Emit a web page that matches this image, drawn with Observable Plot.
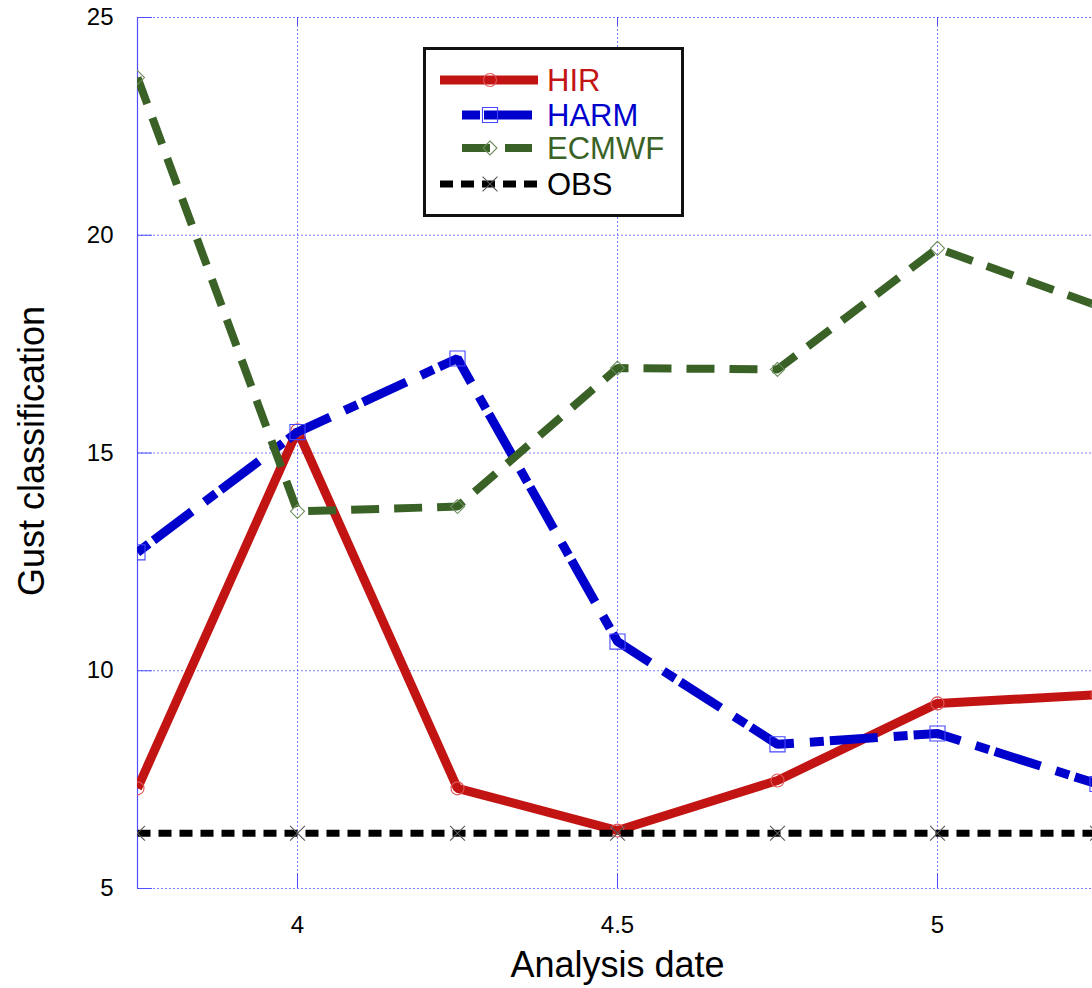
<!DOCTYPE html>
<html><head><meta charset="utf-8">
<script src="https://cdn.jsdelivr.net/npm/d3@7"></script>
<script src="https://cdn.jsdelivr.net/npm/@observablehq/plot@0.6"></script>
<style>
body{margin:0;background:#fff;overflow:hidden;font-family:"Liberation Sans",Arial,sans-serif;}
#wrap{position:relative;width:1092px;height:988px;}
#legend{position:absolute;left:423px;top:47px;width:255px;height:164px;border:3px solid #111;background:#fff;}
#legend svg{display:block;}
</style></head><body><div id="wrap"><div id="chart"></div><div id="legend"></div></div>
<script>
// ---- data ----
const dates = [3.75, 4, 4.25, 4.5, 4.75, 5, 5.25];
const hir   = [7.30, 15.52, 7.30, 6.33, 7.48, 9.25, 9.45];
const harm  = [12.72, 15.48, 17.17, 10.67, 8.31, 8.56, 7.40];
const ecmwf = [23.62, 13.66, 13.77, 16.95, 16.92, 19.70, 18.38];
const obs   = [6.27, 6.27, 6.27, 6.27, 6.27, 6.27, 6.27];
const seriesNames = ["HIR", "HARM", "ECMWF", "OBS"];
const seriesValues = [hir, harm, ecmwf, obs];
const seriesColors = ["#c31414", "#0000cc", "#3a6226", "#000000"];
const markerColors = ["#e05555", "#4646ff", "#6d8c5c", "#555555"];
const markerSymbols = ["circle", "square", "diamond2", "times"];
const markerR = [6.5, 8.5, 6.3, 6.8];
const dashes = [null, "14,6,48,16", "28,15", "13,8"];
const widths = [9, 9, 8, 7];
const xTicks = [4, 4.5, 5];
const yTicks = [5, 10, 15, 20, 25];
const xLabel = "Analysis date";
const yLabel = "Gust classification";

// ---- layout ----
const W = 1092, H = 988;
const mL = 137, mT = 17, mB = 100, mR = 0;
const xDomain = [3.75, 3.75 + (W - mL) / 640];
const gridColor = "#6f6fff";

const rows = seriesNames.map((s, i) => dates.map((d, j) => ({date: d, value: seriesValues[i][j], series: s})));

const marks = [
  Plot.gridX(xTicks, {stroke: gridColor, strokeOpacity: 0.9, strokeDasharray: "2,2"}),
  Plot.gridY(yTicks, {stroke: gridColor, strokeOpacity: 0.9, strokeDasharray: "2,2"}),
  Plot.ruleX([xDomain[0]], {stroke: "#4f4fff", strokeWidth: 1.2}),
  Plot.tickY(yTicks, {stroke: "#4f4fff", insetRight: (W - mL - mR) - 15}),
  Plot.tickX(xTicks, {stroke: "#4f4fff", insetTop: (H - mT - mB) - 15}),
  Plot.tickX(xTicks, {stroke: "#4f4fff", insetBottom: (H - mT - mB) - 8}),
  Plot.axisX({ticks: xTicks, tickSize: 0, tickPadding: 27, fontSize: 24, label: null, tickFormat: d => String(d)}),
  Plot.axisY({ticks: yTicks, tickSize: 0, tickPadding: 24, fontSize: 24, label: null}),
  Plot.text([xLabel], {frameAnchor: "bottom", textAnchor: "middle", dy: 88, dx: 2.5, fontSize: 36, fill: "#000"}),
  Plot.text([yLabel], {frameAnchor: "left", textAnchor: "middle", rotate: -90, dx: -105, dy: -2, fontSize: 36, fill: "#000"})
];
seriesNames.forEach((s, i) => {
  marks.push(Plot.line(rows[i], {x: "date", y: "value", stroke: seriesColors[i], strokeWidth: widths[i],
    strokeDasharray: dashes[i], strokeLinecap: "butt", strokeLinejoin: "miter", clip: true}));
  marks.push(Plot.dot(rows[i], {x: "date", y: "value", symbol: markerSymbols[i], r: markerR[i],
    stroke: markerColors[i], strokeWidth: 1.1, fill: "none", clip: true}));
});

const chart = Plot.plot({
  width: W, height: H,
  marginLeft: mL, marginRight: mR, marginTop: mT, marginBottom: mB,
  style: {fontFamily: "'Liberation Sans', Arial, sans-serif", color: "#000", background: "#fff"},
  x: {domain: xDomain},
  y: {domain: [5, 25]},
  marks
});
document.getElementById("chart").appendChild(chart);

// ---- legend ----
const lg = d3.select("#legend").append("svg").attr("width", 255).attr("height", 164);
const rowY = [30, 65, 98, 134];
const sampleX = [[14, 112], [36, 106], [36, 106], [14, 112]];
const legendDash = [null, "18,4,48,0", "28,15", "13,8"];
seriesNames.forEach((s, i) => {
  const g = lg.append("g").attr("transform", `translate(0,${rowY[i]})`);
  g.append("line").attr("x1", sampleX[i][0]).attr("x2", sampleX[i][1]).attr("y1", 0).attr("y2", 0)
    .attr("stroke", seriesColors[i]).attr("stroke-width", widths[i])
    .attr("stroke-dasharray", legendDash[i]);
  const sym = {circle: d3.symbolCircle, square: d3.symbolSquare, diamond2: d3.symbolDiamond2, times: d3.symbolTimes}[markerSymbols[i]];
  g.append("path").attr("transform", "translate(64,0)")
    .attr("d", d3.symbol(sym, Math.PI * markerR[i] * markerR[i])())
    .attr("fill", "none").attr("stroke", markerColors[i]).attr("stroke-width", 1.1);
  g.append("text").attr("x", 121).attr("y", 0).attr("dy", "0.35em")
    .attr("font-size", 31).attr("fill", seriesColors[i])
    .attr("font-family", "'Liberation Sans', Arial, sans-serif").text(s);
});
</script>
</body></html>
